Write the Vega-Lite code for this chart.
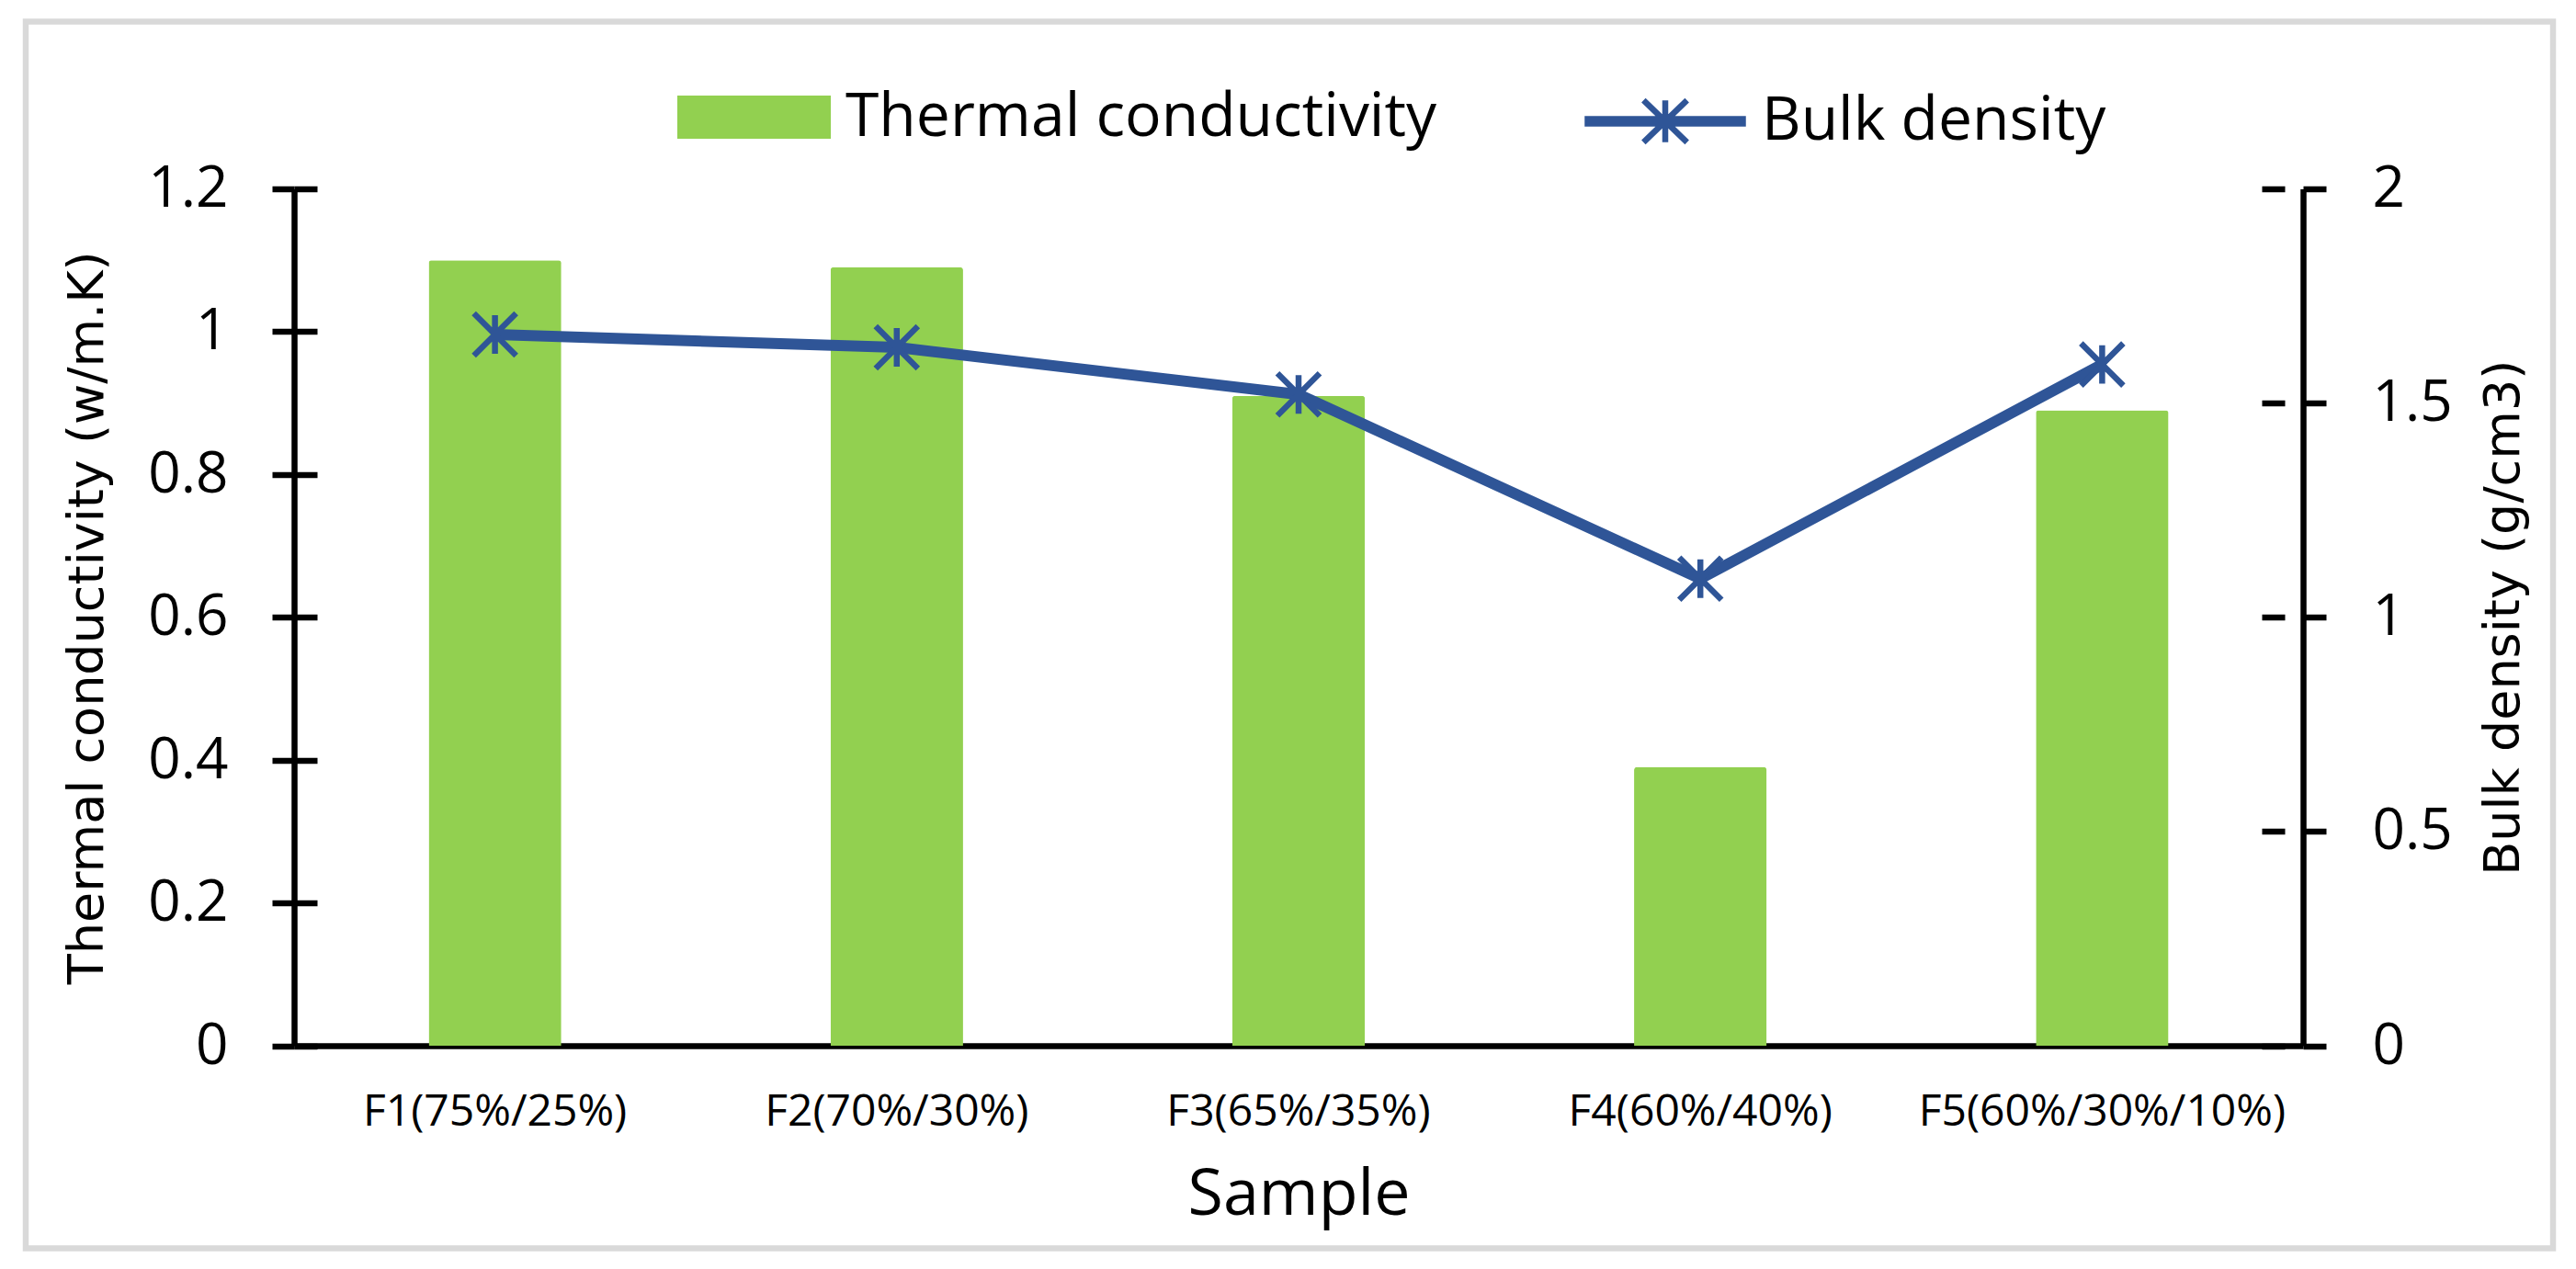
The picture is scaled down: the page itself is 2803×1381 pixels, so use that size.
{
  "$schema": "https://vega.github.io/schema/vega-lite/v6.json",
  "width": 2750,
  "height": 1335,
  "autosize": {"type": "none"},
  "padding": {"left": 28, "top": 23.5, "right": 25, "bottom": 22.5},
  "background": "white",
  "config": {
    "view": {"stroke": "#D9D9D9", "strokeWidth": 6.5, "fill": "white"},
    "axis": {"domainColor": "black", "tickColor": "black", "labelColor": "black", "titleColor": "black", "gridColor": "black", "gridOpacity": 1}
  },
  "data": {
    "values": [
      {"sample": "F1(75%/25%)", "tc": 1.10, "bd": 1.66},
      {"sample": "F2(70%/30%)", "tc": 1.09, "bd": 1.63},
      {"sample": "F3(65%/35%)", "tc": 0.91, "bd": 1.52},
      {"sample": "F4(60%/40%)", "tc": 0.39, "bd": 1.09},
      {"sample": "F5(60%/30%/10%)", "tc": 0.89, "bd": 1.59}
    ]
  },
  "encoding": {
    "x": {
      "field": "sample",
      "type": "nominal",
      "sort": null,
      "scale": {"range": [292, 2478], "paddingInner": 0.67, "paddingOuter": 0.335},
      "axis": {
        "title": "Sample",
        "orient": "bottom",
        "offset": -220.5,
        "domainWidth": 6.5,
        "ticks": false,
        "tickSize": 0,
        "grid": false,
        "labelAngle": 0,
        "labelFont": "Open Sans",
        "labelFontSize": 48,
        "labelPadding": 48,
        "labelLimit": 0,
        "titleFont": "Open Sans",
        "titleFontSize": 70,
        "titleFontWeight": "normal",
        "titlePadding": 32
      }
    }
  },
  "layer": [
    {
      "mark": {"type": "bar", "cornerRadiusTopLeft": 3, "cornerRadiusTopRight": 3},
      "encoding": {
        "y": {
          "field": "tc",
          "type": "quantitative",
          "scale": {"domain": [0, 1.2], "range": [1114.5, 182], "nice": false, "zero": true},
          "axis": {
            "orient": "left",
            "offset": -292,
            "title": "Thermal conductivity (w/m.K)",
            "values": [0, 0.2, 0.4, 0.6, 0.8, 1, 1.2],
            "format": "~g",
            "domainWidth": 6.5,
            "tickSize": 24,
            "tickWidth": 6.5,
            "grid": true,
            "gridDash": [25, 4000],
            "gridWidth": 6.5,
            "labelFont": "Open Sans",
            "labelFontSize": 62,
            "labelPadding": 48,
            "labelFlush": false,
            "labelOverlap": false,
            "titleFont": "DejaVu Sans",
            "titleFontSize": 54,
            "titleFontWeight": "normal",
            "titlePadding": 38
          }
        },
        "fill": {
          "datum": "Thermal conductivity",
          "scale": {"range": ["#92D050"]},
          "legend": {
            "orient": "none",
            "legendX": 709,
            "legendY": 20.5,
            "title": null,
            "padding": 0,
            "symbolType": "M-1,-0.281L1,-0.281L1,0.281L-1,0.281Z",
            "symbolSize": 27889,
            "symbolStrokeWidth": 0,
            "labelFont": "Open Sans",
            "labelFontSize": 66,
            "labelColor": "black",
            "labelOffset": 16,
            "labelLimit": 0
          }
        }
      }
    },
    {
      "encoding": {
        "y": {
          "field": "bd",
          "type": "quantitative",
          "scale": {"domain": [0, 2], "range": [1114.5, 182], "nice": false, "zero": true},
          "axis": {
            "orient": "right",
            "offset": -272,
            "title": "Bulk density (g/cm3)",
            "values": [0, 0.5, 1, 1.5, 2],
            "format": "~g",
            "domainWidth": 6.5,
            "tickSize": 25,
            "tickWidth": 6.5,
            "grid": true,
            "gridDash": [25, 4000],
            "gridWidth": 6.5,
            "labelFont": "Open Sans",
            "labelFontSize": 62,
            "labelPadding": 50,
            "labelFlush": false,
            "labelOverlap": false,
            "titleFont": "DejaVu Sans",
            "titleFontSize": 54,
            "titleFontWeight": "normal",
            "titleAngle": 270,
            "titleBaseline": "top",
            "titlePadding": 29
          }
        },
        "stroke": {
          "datum": "Bulk density",
          "scale": {"range": ["#2F5597"]},
          "legend": {
            "orient": "none",
            "legendX": 1696,
            "legendY": 20.5,
            "title": null,
            "padding": 0,
            "symbolType": "M-1,-0.03L1,-0.03L1,0.03L-1,0.03ZM0,-0.27L0,0.27M-0.28,-0.27L0.28,0.27M-0.28,0.27L0.28,-0.27",
            "symbolSize": 28561,
            "symbolStrokeWidth": 6.5,
            "labelFont": "Open Sans",
            "labelFontSize": 66,
            "labelColor": "black",
            "labelOffset": 17,
            "labelLimit": 0,
            "encode": {
              "symbols": {
                "update": {
                  "fill": {"value": "#2F5597"},
                  "stroke": {"value": "#2F5597"},
                  "strokeWidth": {"value": 6.5},
                  "opacity": {"value": 1}
                }
              }
            }
          }
        }
      },
      "layer": [
        {"mark": {"type": "line", "strokeWidth": 12, "strokeJoin": "round"}},
        {
          "mark": {
            "type": "point",
            "shape": "M-1,-1L1,1M-1,1L1,-1M0,-0.91L0,0.91",
            "filled": false,
            "size": 2116,
            "strokeWidth": 6.5,
            "opacity": 1
          }
        }
      ]
    }
  ],
  "resolve": {"scale": {"y": "independent"}}
}
